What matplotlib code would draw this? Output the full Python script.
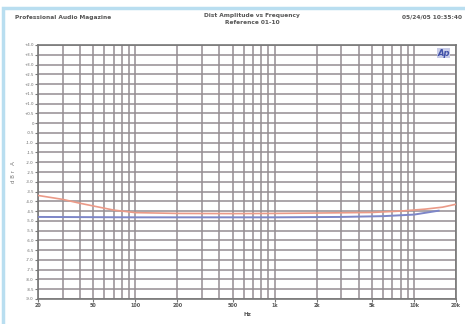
import matplotlib
matplotlib.use('Agg')
import matplotlib.pyplot as plt
from matplotlib.patches import Rectangle
import numpy as np

# measured response (dBr A) vs frequency (Hz)
red_freq = [20, 30, 40, 55, 70, 100, 200, 500, 1000, 2000, 5000, 8000, 12000, 16000, 20000]
red_level = [-3.7, -3.9, -4.1, -4.3, -4.45, -4.58, -4.62, -4.63, -4.62, -4.6, -4.57, -4.5, -4.4, -4.3, -4.15]
blue_freq = [20, 100, 1000, 3000, 6000, 10000, 13000, 15000]
blue_level = [-4.8, -4.82, -4.82, -4.8, -4.76, -4.68, -4.55, -4.48]

xtick_vals = [20, 50, 100, 200, 500, 1000, 2000, 5000, 10000, 20000]
xtick_labels = ['20', '50', '100', '200', '500', '1k', '2k', '5k', '10k', '20k']
y_min, y_max, y_step = -9, 4, 0.5

fig = plt.figure(figsize=(4.65, 3.24), dpi=100)
ax = fig.add_axes([38/465, 1-299/324, 418/465, 254/324])

# light blue frame round the page
fig.patches.append(Rectangle((3/465, -0.1), 1.2, 1.1-8/324, transform=fig.transFigure,
                             fill=False, edgecolor='#b9def0', linewidth=2.5))

ax.set_xscale('log')
ax.set_xlim(20, 20000)
ax.set_ylim(y_min, y_max)

# grid: every 1..9 per decade, every 0.5 dB
minor = [m*10**d for d in range(1, 5) for m in range(1, 10) if 20 <= m*10**d <= 20000]
for f in minor:
    ax.axvline(f, color='#958d92', linewidth=1.1, zorder=1)
for yv in np.arange(y_min, y_max + 0.01, y_step):
    ax.axhline(yv, color='#958d92', linewidth=1.1, zorder=1)

ax.plot(red_freq, red_level, color='#eb9a88', linewidth=1.2, zorder=3)
ax.plot(blue_freq, blue_level, color='#7d86c8', linewidth=1.4, zorder=3)

ax.set_xticks(xtick_vals)
ax.set_xticklabels(xtick_labels, fontsize=3.5, color='#555555', fontweight='bold')
ax.xaxis.set_minor_locator(matplotlib.ticker.NullLocator())
yt = np.arange(y_min, y_max + 0.01, y_step)
ax.set_yticks(yt)
ax.set_yticklabels(['%+.1f' % v if v != 0 else '0' for v in yt], fontsize=2.8, color='#666666')
ax.tick_params(length=2, width=0.8, color='#777777', pad=1)
for s in ax.spines.values():
    s.set_color('#777777')
    s.set_linewidth(1.2)

ax.set_xlabel('Hz', fontsize=4, color='#555555', fontweight='bold', labelpad=3)
ax.set_ylabel('d B r   A', fontsize=4, color='#777777', labelpad=6)

fig.text(15/465, 1-17/324, 'Professional Audio Magazine', fontsize=4.2, fontweight='bold',
         color='#555555', va='center')
fig.text(252/465, 1-16/324, 'Dist Amplitude vs Frequency', fontsize=4.2, fontweight='bold',
         color='#555555', ha='center', va='center')
fig.text(252/465, 1-23/324, 'Reference 01-10', fontsize=4.2, fontweight='bold',
         color='#555555', ha='center', va='center')
fig.text(462/465, 1-17/324, '05/24/05 10:35:40', fontsize=4.2, fontweight='bold',
         color='#555555', ha='right', va='center')
ax.text(0.985, 0.985, 'Ap', transform=ax.transAxes, fontsize=6, fontstyle='italic',
        fontweight='bold', color='#4050a8', ha='right', va='top', zorder=4,
        bbox=dict(facecolor='#c8cce8', edgecolor='none', pad=0.5))

fig.savefig('out.png', dpi=100)
